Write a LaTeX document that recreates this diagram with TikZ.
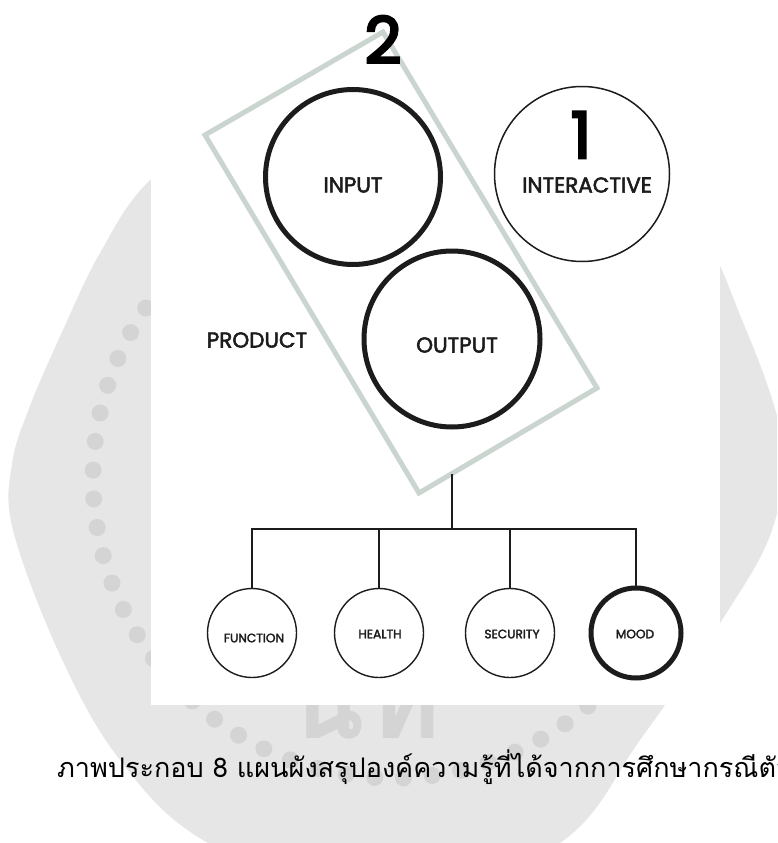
\documentclass[tikz,border=0pt]{standalone}
\usepackage{fontspec}
\setmainfont{Poppins}[FakeBold=2.5]
\newfontfamily\digitfont{Poppins}[FakeBold=4]
\newfontfamily\thaifont[Script=Thai]{Loma}
\usetikzlibrary{calc}

\definecolor{sealgray}{HTML}{E6E6E6}
\definecolor{dotgray}{HTML}{D4D4D4}
\definecolor{framegreen}{HTML}{CBD5D0}
\definecolor{ink}{HTML}{1C1C1C}

\tikzset{
  bigring/.style={circle, draw=ink, inner sep=0pt},
  heavy/.style={line width=5pt},
  light/.style={line width=1.5pt},
  tag/.style={inner sep=0pt, text=ink, font=\fontsize{21.5}{21.5}\selectfont},
  smalltag/.style={inner sep=0pt, text=ink, font=\fontsize{12.2}{12.2}\selectfont},
  leaf/.style={circle, draw=ink, inner sep=0pt, minimum size=89pt, line width=1.4pt},
  digit/.style={inner sep=0pt, text=black, font=\digitfont\fontsize{64}{64}\selectfont},
  link/.style={draw=ink, line width=1.6pt},
  frame/.style={draw=framegreen, line width=5pt, line join=miter},
}

\begin{document}
\begin{tikzpicture}[x=1pt,y=-1pt]
\useasboundingbox (0,0) rectangle (777,843);
\clip (0,0) rectangle (777,843);
\fill[white] (0,0) rectangle (777,843);

% faint seal in the background
\fill[sealgray] plot[smooth cycle, tension=0.6] coordinates {
  (390,60) (560,110) (690,220) (742,320) (782,440) (772,530) (722,620)
  (640,740) (560,843) (390,915) (208,843) (120,760) (60,655) (13,530)
  (12,464) (30,406) (63,330) (100,253) (150,180) (250,105)};
\foreach \a in {0,5.5,...,359}
  \fill[dotgray] ({393+300*cos(\a)},{478+300*sin(\a)}) circle (8.5);
\node[inner sep=0pt, anchor=base, text=dotgray,
      font=\thaifont\bfseries\fontsize{115}{115}\selectfont] (sealtext) at (364,738) {นท};

% white sheet carrying the chart
\fill[white] (151,0) rectangle (720,705);

% tilted frame round input and output
\coordinate (ft) at (383,32);
\coordinate (fl) at (205,135);
\coordinate (fb) at (419,493);
\coordinate (fr) at (597,388);
\draw[frame] (ft) -- (fl) -- (fb) -- (fr) -- cycle;
\node[digit, anchor=base] (two) at (383,63) {2};

% upper circles
\node[bigring, heavy, minimum size=175pt] (inp) at (353,177) {};
\node[tag] (inptxt) at (353,185) {INPUT};
\node[bigring, light, minimum size=175pt] (inter) at (582,174) {};
\node[digit, anchor=base] (one) at (581,158) {1};
\node[tag] (intertxt) at (587,185) {INTERACTIVE};
\node[bigring, heavy, minimum size=176pt] (outp) at (452,339) {};
\node[tag] (outtxt) at (457,345) {OUTPUT};
\node[tag] (product) at (257,340) {PRODUCT};

% lower circles
\node[leaf] (fn) at (252,633) {};
\node[smalltag] (fntxt) at (254,638) {FUNCTION};
\node[leaf] (hl) at (379,633) {};
\node[smalltag] (hltxt) at (380,634) {HEALTH};
\node[leaf] (sc) at (510,633) {};
\node[smalltag] (sctxt) at (512,634) {SECURITY};
\node[leaf, line width=5pt, minimum size=90pt] (md) at (636,633) {};
\node[smalltag] (mdtxt) at (635,634) {MOOD};

% tree connectors
\coordinate (stem) at ($(fb)!0.185!(fr)$);
\coordinate (bar) at (452,529);
\draw[link] (stem) -- (stem |- bar);
\draw[link] (fn.north) -- (fn.north |- bar) -- (md.north |- bar) -- (md.north);
\draw[link] (hl.north) -- (hl.north |- bar);
\draw[link] (sc.north) -- (sc.north |- bar);

% caption
\node[inner sep=0pt, anchor=base west, text=black,
      font=\thaifont\fontsize{27}{27}\selectfont] (caption) at (57,777)
  {ภาพประกอบ 8 แผนผังสรุปองค์ความรู้ที่ได้จากการศึกษากรณีตัว};
\end{tikzpicture}
\end{document}
